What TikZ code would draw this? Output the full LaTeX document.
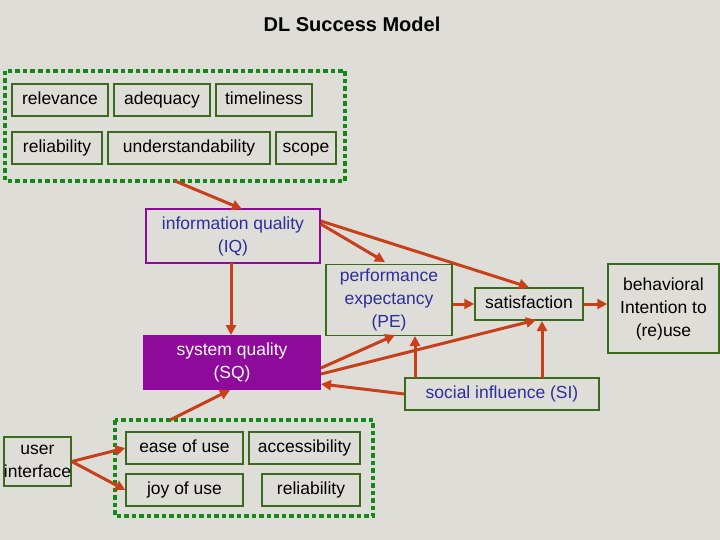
\documentclass[tikz,border=0pt]{standalone}
\usepackage{fontspec}
\setmainfont{Liberation Sans}
\usetikzlibrary{arrows.meta}
\definecolor{bg}{HTML}{DEDDD8}
\definecolor{gb}{HTML}{3A6A1E}
\definecolor{dg}{HTML}{138A18}
\definecolor{pur}{HTML}{8E0A9A}
\definecolor{blu}{HTML}{2E2E9E}
\definecolor{arr}{HTML}{C8401A}
\begin{document}
\begin{tikzpicture}[x=1pt,y=-1pt,
  box/.style={draw=gb,line width=1.5pt,inner sep=0pt,font=\fontsize{17.5}{23}\selectfont,align=center},
  one/.style={box,text height=13pt,text depth=4pt,minimum height=32},
  dotbox/.style={draw=dg,line width=4.5pt,dash pattern=on 4.5pt off 3pt},
  ar/.style={draw=arr,line width=3pt,-{Triangle[length=10pt,width=10pt]}}]
\fill[bg] (0,0) rectangle (720,540);
\node[font=\bfseries\fontsize{20}{24}\selectfont] (title) at (352,24) {DL Success Model};
\draw[dotbox] (5,71) rectangle (345,181);
\coordinate (tb) at (175,181);
\node[one,minimum width=96] (rel) at (60,100) {relevance};
\node[one,minimum width=96] (ade) at (162,100) {adequacy};
\node[one,minimum width=96] (tim) at (264,100) {timeliness};
\node[one,minimum width=90] (reli) at (57,148) {reliability};
\node[one,minimum width=162] (und) at (189,148) {understandability};
\node[one,minimum width=60] (sco) at (306,148) {scope};
\node[box,draw=pur,text=blu,minimum width=174,minimum height=54] (iq) at (233,236) {information quality\\(IQ)};
\node[box,text=blu,minimum width=126,minimum height=71] (pe) at (389,300) {performance\\expectancy\\(PE)};
\node[one,minimum width=108] (sat) at (529,304) {satisfaction};
\node[box,minimum width=111,minimum height=89] (beh) at (663.5,308.5) {behavioral\\Intention to\\(re)use};
\node[box,draw=none,fill=pur,text=white,minimum width=178,minimum height=55] (sq) at (232,362.5) {system quality\\(SQ)};
\node[one,text=blu,minimum width=194] (si) at (502,394) {social influence (SI)};
\node[box,minimum width=65,minimum height=49] (ui) at (37.5,461.5) {user\\interface};
\draw[dotbox] (115,420) rectangle (373,516);
\coordinate (bb) at (170,420);
\node[one,minimum width=117] (eas) at (184.5,448) {ease of use};
\node[one,minimum width=111] (acc) at (304.5,448) {accessibility};
\node[one,minimum width=117] (joy) at (184.5,490) {joy of use};
\node[one,minimum width=98] (rel2) at (311,490) {reliability};
\draw[ar] (tb) -- (242,209);
\draw[ar] (iq.east |- 0,224) -- (385,262);
\draw[ar] (iq.east |- 0,221) -- (sat.north);
\draw[ar] (231,263) -- (231,335);
\draw[ar] (pe.east |- sat) -- (sat.west);
\draw[ar] (sat) -- (beh.west |- sat);
\draw[ar] (321,368) -- (395,335);
\draw[ar] (321,374) -- (536,320);
\draw[ar] (si.west) -- (321,384);
\draw[ar] (415,378) -- (415,336);
\draw[ar] (542,378) -- (542,321);
\draw[ar] (bb) -- (230,390);
\draw[ar] (ui.east) -- (eas.west);
\draw[ar] (ui.east) -- (joy.west);
\end{tikzpicture}
\end{document}
